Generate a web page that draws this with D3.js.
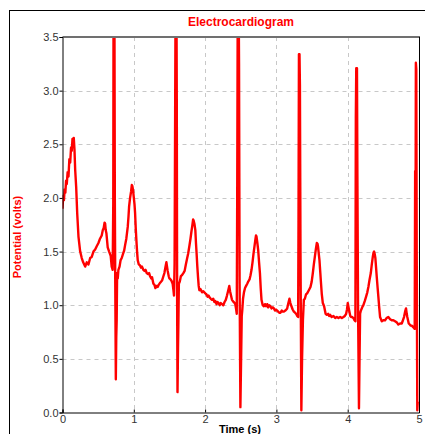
<!DOCTYPE html>
<html>
<head>
<meta charset="utf-8">
<script src="https://cdn.jsdelivr.net/npm/d3@7"></script>
<style>
    body { margin: 0; background: #fff; }
    svg { display: block; font-family: "Liberation Sans", Arial, sans-serif; }
</style>
</head>
<body>
<div class="ecgdiv"></div>
<script>
// ---- data (time in s, potential in volts) ----
var chartTitle = 'Electrocardiogram'
var xLabel = 'Time (s)'
var yLabel = 'Potential (volts)'
var xTicks = [0, 1, 2, 3, 4, 5]
var yTicks = [0.0, 0.5, 1.0, 1.5, 2.0, 2.5, 3.0, 3.5]

var timeS = [
    0, 0.010, 0.020, 0.030, 0.040, 0.050, 0.060, 0.072, 0.084, 0.096, 0.108, 0.120, 0.130, 0.140, 0.150, 0.158, 0.168, 0.178, 0.192, 0.206,
    0.224, 0.248, 0.270, 0.290, 0.318, 0.340, 0.364, 0.388, 0.410, 0.434, 0.458, 0.480, 0.504, 0.526, 0.550, 0.565, 0.578, 0.590, 0.598, 0.606,
    0.616, 0.634, 0.654, 0.676, 0.690, 0.704,
    0.712, 0.716, 0.728, 0.734, 0.740, 0.748, 0.754, 0.760, 0.766, 0.775, 0.784,
    0.800, 0.815, 0.831, 0.850, 0.865, 0.878, 0.895, 0.915, 0.925, 0.934, 0.948, 0.962, 0.972, 0.980, 0.990, 0.999, 1.010, 1.018, 1.027, 1.036,
    1.046, 1.055, 1.070, 1.088, 1.100, 1.115, 1.134, 1.150, 1.165, 1.181, 1.200, 1.215, 1.228, 1.245, 1.256, 1.275, 1.290, 1.303, 1.320, 1.335,
    1.349, 1.370, 1.396, 1.415, 1.429, 1.445, 1.457, 1.466, 1.475, 1.490, 1.499, 1.515, 1.527, 1.545, 1.556, 1.564, 1.572,
    1.580, 1.586, 1.598, 1.603, 1.608, 1.613, 1.620, 1.626, 1.632, 1.645, 1.660, 1.676, 1.695, 1.713, 1.730, 1.746, 1.762, 1.779, 1.795, 1.807,
    1.820, 1.832, 1.839, 1.850, 1.863, 1.872, 1.881, 1.891, 1.901, 1.910, 1.919, 1.935, 1.957, 1.975, 2.003, 2.020, 2.035, 2.049, 2.065, 2.080,
    2.097, 2.115, 2.130, 2.143, 2.160, 2.175, 2.189, 2.205, 2.220, 2.237, 2.255, 2.273, 2.290, 2.307, 2.325, 2.339, 2.350, 2.357, 2.377, 2.399,
    2.415, 2.423, 2.436, 2.444,
    2.450, 2.458, 2.470, 2.476, 2.484, 2.495, 2.505, 2.514, 2.521, 2.532, 2.545, 2.560, 2.575, 2.591, 2.605, 2.623, 2.637, 2.651, 2.665, 2.679,
    2.693, 2.707, 2.714, 2.721, 2.733, 2.745, 2.757, 2.769, 2.780, 2.791, 2.808, 2.825, 2.840, 2.855, 2.871, 2.885, 2.900, 2.917, 2.932, 2.950,
    2.965, 2.980, 2.995, 3.011, 3.025, 3.040, 3.057, 3.075, 3.090, 3.105, 3.125, 3.140, 3.151, 3.168, 3.183, 3.196, 3.211, 3.228, 3.245, 3.262,
    3.277, 3.292, 3.305,
    3.310, 3.316, 3.324, 3.330, 3.338, 3.350, 3.360, 3.372, 3.385, 3.399, 3.415, 3.431, 3.455, 3.478, 3.495, 3.511, 3.525, 3.539, 3.553, 3.567,
    3.578, 3.585, 3.594, 3.604, 3.614, 3.623, 3.637, 3.651, 3.669, 3.690, 3.707, 3.725, 3.740, 3.754, 3.775, 3.800, 3.825, 3.847, 3.870, 3.894,
    3.918, 3.940, 3.960, 3.978, 3.990, 4.001, 4.012, 4.024, 4.036, 4.048, 4.064, 4.080, 4.095, 4.108,
    4.114, 4.120, 4.130, 4.136, 4.145, 4.158, 4.166, 4.174, 4.185, 4.197, 4.210, 4.220, 4.240, 4.258, 4.275, 4.290, 4.307, 4.324, 4.338, 4.352,
    4.362, 4.370, 4.378, 4.388, 4.398, 4.408, 4.420, 4.430, 4.442, 4.454, 4.466, 4.478, 4.500, 4.524, 4.545, 4.570, 4.595, 4.618, 4.640, 4.664,
    4.688, 4.710, 4.735, 4.758, 4.775, 4.790, 4.805, 4.818, 4.828, 4.836, 4.846, 4.856, 4.870, 4.884, 4.898, 4.912, 4.926, 4.940,
    4.946, 4.950, 4.956, 4.962, 4.968, 4.976, 4.982
]

var potentialV = [
    1.90, 2.02, 1.98, 2.08, 2.05, 2.16, 2.13, 2.24, 2.20, 2.36, 2.33, 2.47, 2.44, 2.55, 2.52, 2.56, 2.45, 2.26, 2.10, 1.86,
    1.64, 1.50, 1.44, 1.40, 1.36, 1.40, 1.38, 1.44, 1.45, 1.50, 1.52, 1.55, 1.58, 1.62, 1.65, 1.70, 1.72, 1.77, 1.76, 1.70,
    1.67, 1.54, 1.50, 1.46, 1.36, 1.33,
    1.95, 3.90, 3.90, 2.00, 1.20, 0.31, 0.70, 0.86, 1.30, 1.25, 1.33,
    1.36, 1.42, 1.44, 1.48, 1.51, 1.56, 1.62, 1.73, 1.82, 1.92, 2.00, 2.06, 2.12, 2.11, 2.07, 2.01, 1.94, 1.86, 1.72, 1.61,
    1.50, 1.42, 1.38, 1.37, 1.35, 1.36, 1.33, 1.32, 1.33, 1.30, 1.29, 1.30, 1.27, 1.25, 1.26, 1.20, 1.19, 1.16, 1.18, 1.17,
    1.19, 1.21, 1.23, 1.27, 1.30, 1.36, 1.40, 1.36, 1.32, 1.27, 1.25, 1.24, 1.23, 1.20, 1.14, 1.09, 1.39,
    2.80, 3.90, 3.90, 2.90, 1.00, 0.19, 0.60, 0.86, 1.20, 1.22, 1.27, 1.28, 1.30, 1.32, 1.38, 1.43, 1.48, 1.55, 1.62, 1.68,
    1.74, 1.80, 1.79, 1.76, 1.70, 1.58, 1.48, 1.36, 1.26, 1.18, 1.14, 1.15, 1.12, 1.13, 1.11, 1.10, 1.08, 1.09, 1.07, 1.06,
    1.05, 1.06, 1.03, 1.04, 1.01, 1.03, 1.02, 1.00, 1.02, 1.01, 1.00, 1.03, 1.05, 1.09, 1.14, 1.18, 1.13, 1.11, 1.05, 1.03,
    1.02, 1.01, 0.96, 0.92,
    1.95, 3.90, 3.90, 3.25, 1.20, 0.05, 0.50, 0.90, 0.95, 1.06, 1.12, 1.16, 1.18, 1.20, 1.22, 1.24, 1.28, 1.33, 1.40, 1.48,
    1.55, 1.62, 1.65, 1.64, 1.58, 1.51, 1.40, 1.30, 1.16, 1.05, 1.00, 0.99, 1.01, 0.99, 1.01, 0.98, 1.00, 0.99, 0.97, 0.98,
    0.97, 0.95, 0.96, 0.95, 0.94, 0.93, 0.93, 0.95, 0.94, 0.94, 0.95, 0.96, 0.97, 1.02, 1.06, 1.02, 0.99, 0.96, 0.94, 0.93,
    0.92, 0.90, 0.89,
    1.77, 3.34, 3.34, 3.05, 1.50, 0.02, 0.50, 0.86, 1.05, 1.06, 1.10, 1.11, 1.14, 1.17, 1.22, 1.30, 1.38, 1.45, 1.52, 1.58,
    1.57, 1.54, 1.48, 1.42, 1.32, 1.23, 1.10, 1.02, 0.99, 0.92, 0.91, 0.92, 0.90, 0.91, 0.89, 0.90, 0.88, 0.89, 0.88, 0.89,
    0.88, 0.89, 0.90, 0.92, 0.96, 1.02, 0.98, 0.94, 0.90, 0.89, 0.89, 0.88, 0.86, 0.85,
    2.75, 3.21, 3.21, 2.20, 1.00, 0.04, 0.50, 0.92, 0.95, 0.97, 0.99, 1.00, 1.04, 1.08, 1.12, 1.17, 1.24, 1.30, 1.38, 1.45,
    1.49, 1.50, 1.48, 1.44, 1.35, 1.26, 1.16, 1.08, 0.98, 0.89, 0.87, 0.85, 0.86, 0.86, 0.88, 0.89, 0.87, 0.86, 0.86, 0.85,
    0.84, 0.82, 0.83, 0.83, 0.86, 0.89, 0.94, 0.97, 0.92, 0.89, 0.86, 0.83, 0.82, 0.81, 0.81, 0.80, 0.79, 0.78,
    2.25, 1.20, 3.26, 3.20, 1.50, 0.02, 0.10
]

class EcgChart {
    constructor(container = 'ecgdiv') {
        this.container = container
        this.w = 425
        this.h = 434
        this.data = timeS.map((t, i) => ({ t: t, v: potentialV[i] }))
    }

    draw() {
        var left = 62.5, right = 419, top = 37, bottom = 412.5
        var w = this.w, h = this.h

        var xScale = d3.scaleLinear().domain([0, 5]).range([left, right])
        var yScale = d3.scaleLinear().domain([0, 3.5]).range([bottom, top])

        var svg = d3.select('.' + this.container)
            .append('svg')
            .attr('width', w)
            .attr('height', h)

        // outer frame (runs off the right/bottom edge)
        svg.append('rect')
            .attr('x', 9.5).attr('y', 10.5)
            .attr('width', 600).attr('height', 600)
            .attr('fill', 'none').attr('stroke', '#000')

        // grid lines
        var grid = svg.append('g').attr('class', 'grid')
        grid.selectAll('.hgrid')
            .data(yTicks.filter(d => d > 0 && d < 3.5))
            .enter().append('line')
            .attr('x1', left).attr('x2', right)
            .attr('y1', d => Math.round(yScale(d)) + 0.5)
            .attr('y2', d => Math.round(yScale(d)) + 0.5)
            .attr('stroke', '#c8c8c8').attr('stroke-dasharray', '4,4')
        grid.selectAll('.vgrid')
            .data(xTicks.filter(d => d > 0 && d < 5))
            .enter().append('line')
            .attr('y1', top).attr('y2', bottom)
            .attr('x1', d => Math.round(xScale(d)) + 0.5)
            .attr('x2', d => Math.round(xScale(d)) + 0.5)
            .attr('stroke', '#c8c8c8').attr('stroke-dasharray', '4,4')

        // clip for the trace
        svg.append('clipPath').attr('id', 'plotclip')
            .append('rect')
            .attr('x', left).attr('y', top)
            .attr('width', right - left).attr('height', bottom - top)

        var line = d3.line()
            .x(d => xScale(d.t))
            .y(d => yScale(d.v))

        svg.append('path')
            .datum(this.data)
            .attr('clip-path', 'url(#plotclip)')
            .attr('d', line)
            .attr('fill', 'none')
            .attr('stroke', '#ff0000')
            .attr('stroke-width', 2.4)
            .attr('stroke-linejoin', 'round')

        // plot box: gray top, black right/left/bottom
        svg.append('line')
            .attr('x1', left).attr('x2', right + 1)
            .attr('y1', top).attr('y2', top)
            .attr('stroke', '#707070').attr('stroke-width', 2)
        svg.append('line')
            .attr('x1', right + 0.5).attr('x2', right + 0.5)
            .attr('y1', top).attr('y2', bottom)
            .attr('stroke', '#000')

        var xAxis = d3.axisBottom(xScale).tickValues(xTicks).tickSize(-3).tickPadding(6)
            .tickFormat(d3.format('d'))
        var yAxis = d3.axisLeft(yScale).tickValues(yTicks).tickSize(3).tickPadding(1)
            .tickFormat(d3.format('.1f'))

        var gx = svg.append('g')
            .attr('transform', 'translate(0,' + bottom + ')')
            .call(xAxis)
        var gy = svg.append('g')
            .attr('transform', 'translate(' + left + ',0)')
            .call(yAxis)

        ;[gx, gy].forEach(g => {
            g.select('.domain').attr('stroke', '#000')
            g.selectAll('.tick line').attr('stroke', '#000')
            g.selectAll('.tick text')
                .attr('fill', '#333')
                .style('font-size', '11px')
                .style('font-family', '"Liberation Sans", Arial, sans-serif')
        })
        gx.selectAll('.tick text').attr('dy', '0.71em').attr('y', 3)

        // title and labels
        svg.append('text')
            .attr('x', 241).attr('y', 26)
            .attr('text-anchor', 'middle')
            .style('font-size', '12px').style('font-weight', 'bold')
            .attr('fill', '#ff0000')
            .text(chartTitle)

        svg.append('text')
            .attr('transform', 'translate(21,237) rotate(-90)')
            .attr('text-anchor', 'middle')
            .style('font-size', '11px').style('font-weight', 'bold')
            .attr('fill', '#ff0000')
            .text(yLabel)

        // sits at the bottom edge, as in the reference
        svg.append('text')
            .attr('x', 240).attr('y', 433)
            .attr('text-anchor', 'middle')
            .style('font-size', '11px').style('font-weight', 'bold')
            .attr('fill', '#000')
            .text(xLabel)
    }
}

var chart = new EcgChart('ecgdiv')
chart.draw()
</script>
</body>
</html>
